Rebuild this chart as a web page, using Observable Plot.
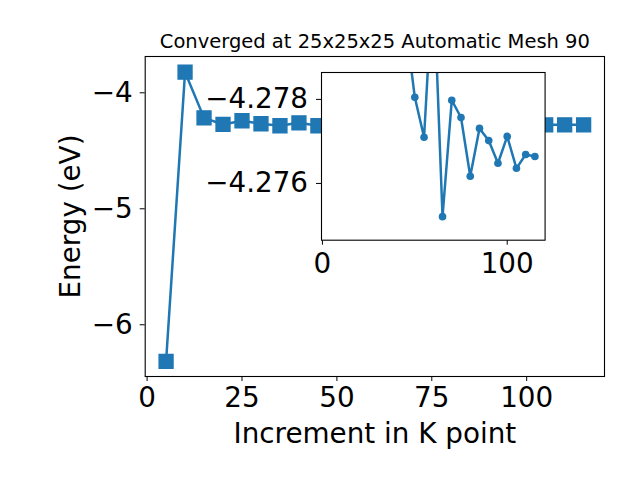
<!DOCTYPE html>
<html><head><meta charset="utf-8">
<script src="https://cdn.jsdelivr.net/npm/d3@7"></script>
<script src="https://cdn.jsdelivr.net/npm/@observablehq/plot@0.6"></script>
<style>
body{margin:0;background:white}
#c{position:relative;width:640px;height:480px}
#c svg{position:absolute}
</style>
</head><body><div id="c"></div>
<script>
// Main series
const kpoints = [5,10,15,20,25,30,35,40,45,50,55,60,65,70,75,80,85,90,95,100,105,110,115];
const energy = [-6.316,-3.822,-4.216,-4.273,-4.241,-4.267,-4.284,-4.259,-4.284,
  -4.278,-4.277,-4.281,-4.275,-4.278,-4.2776,-4.2762,-4.2773,-4.277,-4.2765,-4.2771,
  -4.276,-4.276,-4.276];
// Inset series (zoomed view)
const insetK = [45,50,55,60,65,70,75,80,85,90,95,100,105,110,115];
const insetEnergy = [-4.2798,-4.27805,-4.2771,-4.2810,-4.27521,-4.27798,-4.27757,-4.27617,
  -4.27731,-4.27702,-4.27648,-4.27712,-4.27636,-4.27669,-4.27664];
// Ticks and text
const xTicks = [0,25,50,75,100];
const yTicks = [-6,-5,-4];
const insetXTicks = [0,100];
const insetYTicks = [-4.278,-4.276];
const title = "Converged at 25x25x25 Automatic Mesh 90";
const xLabel = "Increment in K point";
const yLabel = "Energy (eV)";

const color = "#1f77b4";
const font = "'DejaVu Sans', sans-serif";
const minus = s => String(s).replace("-", "\u2212");

const main = kpoints.map((k, i) => ({k, e: energy[i]}));
const inset = insetK.map((k, i) => ({k, e: insetEnergy[i]}));

const mainPlot = Plot.plot({
  width: 640, height: 480,
  marginLeft: 144.7, marginRight: 36, marginTop: 56, marginBottom: 104,
  style: {fontFamily: font, fontSize: "27.8px", background: "white", color: "black"},
  x: {domain: [-0.5, 120.5], ticks: xTicks, tickSize: 5, tickPadding: 6, tickFormat: minus, label: null},
  y: {domain: [-6.446, -3.687], ticks: yTicks, tickSize: 5, tickPadding: 7.5, tickFormat: minus, label: null},
  marks: [
    Plot.frame({stroke: "black", strokeWidth: 1.1}),
    Plot.line(main, {x: "k", y: "e", stroke: color, strokeWidth: 2.5}),
    Plot.dot(main, {x: "k", y: "e", symbol: "square", r: 7.85, fill: color, stroke: color, strokeWidth: 1.4}),
    Plot.text([title], {text: d => d, frameAnchor: "top", textAnchor: "middle", lineAnchor: "bottom", dy: -8.3, fontSize: 19.5, fill: "black"}),
    Plot.text([xLabel], {text: d => d, frameAnchor: "bottom", textAnchor: "middle", lineAnchor: "bottom", dy: 66, fontSize: 27.8, fill: "black"}),
    Plot.text([yLabel], {text: d => d, frameAnchor: "left", textAnchor: "middle", lineAnchor: "bottom", dx: -65, rotate: -90, fontSize: 27.8, fill: "black"})
  ]
});
mainPlot.style.left = "0px";
mainPlot.style.top = "0px";

const insetPlot = Plot.plot({
  width: 363.6, height: 227.7,
  marginLeft: 130, marginRight: 10, marginTop: 10, marginBottom: 50,
  style: {fontFamily: font, fontSize: "27.8px", background: "transparent", overflow: "visible", color: "black"},
  x: {domain: [-0.5, 120.5], ticks: insetXTicks, tickSize: 5, tickPadding: 8, tickFormat: minus, label: null},
  y: {domain: [-4.27465, -4.27864], ticks: insetYTicks, tickSize: 5, tickPadding: 8.5, tickFormat: d => minus(d.toFixed(3)), label: null},
  marks: [
    Plot.frame({fill: "white"}),
    Plot.line(inset, {x: "k", y: "e", stroke: color, strokeWidth: 2.5, clip: true}),
    Plot.dot(inset, {x: "k", y: "e", r: 3.8, fill: color, clip: true}),
    Plot.frame({stroke: "black", strokeWidth: 1.1})
  ]
});
insetPlot.style.left = "190.7px";
insetPlot.style.top = "62.3px";

const c = document.getElementById("c");
c.appendChild(mainPlot);
c.appendChild(insetPlot);
</script>
</body></html>
